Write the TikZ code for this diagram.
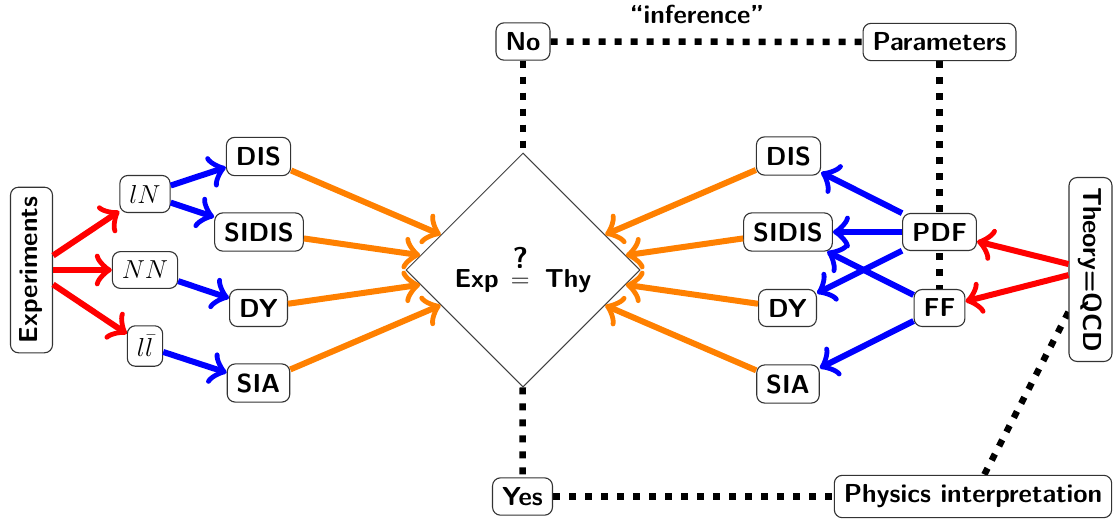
\RequirePackage{fix-cm}
\documentclass[tikz,border=0pt]{standalone}
\usepackage{amsmath}
\usepackage{fontspec}
\usetikzlibrary{shapes.geometric,backgrounds,arrows.meta}
\definecolor{myorange}{RGB}{255,128,0}
\newcommand{\queq}{\makebox[20pt]{$=$}\llap{\makebox[20pt]{\raisebox{19pt}{\fontsize{30}{30}\selectfont ?}}}}
\begin{document}
\begin{tikzpicture}[x=1pt,y=-1pt,
  every node/.style={font=\fontsize{26}{31}\selectfont\sffamily\bfseries},
  box/.style={draw=black!80, line width=1.1pt, rounded corners=8pt, fill=white, inner sep=9.5pt},
  tip/.style={-{Classical TikZ Rightarrow[scale=1.35]}, line width=6pt},
  redarr/.style={tip, red},
  bluearr/.style={tip, blue},
  orarr/.style={tip, myorange},
  dots/.style={line width=6.5pt, dash pattern=on 7pt off 9pt}
]
\path[use as bounding box] (0,0) rectangle (1118,520);
% left side
\node[box, rotate=90] (exp) at (31.5,270) {Experiments};
\node[box] (lN) at (145,194) {$lN$};
\node[box] (NN) at (145,270) {$NN$};
\node[box] (ll) at (145,346) {$l\bar{l}$};
\node[box] (disL) at (258.5,156.5) {DIS};
\node[box] (sidisL) at (259,232) {SIDIS};
\node[box] (dyL) at (258.5,308) {DY};
\node[box] (siaL) at (258.5,383) {SIA};
% centre
\node[draw=black!75, line width=1pt, shape=diamond, aspect=1, minimum width=234pt, minimum height=234pt, inner sep=0pt, fill=white, text height=40pt, text depth=6pt] (thy) at (523,270) {Exp\hspace{11.5pt}\queq\hspace{14.5pt}Thy};
% right side
\node[box] (disR) at (788.5,156) {DIS};
\node[box] (sidisR) at (788,232) {SIDIS};
\node[box] (dyR) at (787.5,308) {DY};
\node[box] (siaR) at (788,384) {SIA};
\node[box] (pdf) at (939.5,232) {PDF};
\node[box] (ff) at (939.5,308) {FF};
\node[box, rotate=-90] (qcd) at (1090.5,269.5) {Theory=QCD};
% top and bottom
\node[box] (no) at (523,41.5) {No};
\node[box] (par) at (939.5,42) {Parameters};
\node[box] (yes) at (522.5,496.5) {Yes};
\node[box] (phys) at (973,496.5) {Physics interpretation};
\node (inf) at (697,14) {“inference”};
% dotted lines
\begin{scope}[on background layer]
\draw[dots] (no) -- (par);
\draw[dots] (no) -- (thy);
\draw[dots] (par) -- (ff);
\draw[dots] (thy) -- (yes);
\draw[dots] (yes) -- (phys);
\draw[dots] (qcd) -- (phys);
\end{scope}
% arrows
\draw[redarr] (exp) -- (lN);
\draw[redarr] (exp) -- (NN);
\draw[redarr] (exp) -- (ll);
\draw[bluearr] (lN) -- (disL);
\draw[bluearr] (lN) -- (sidisL);
\draw[bluearr] (NN) -- (dyL);
\draw[bluearr] (ll) -- (siaL);
\draw[orarr] (disL) -- (thy);
\draw[orarr] (sidisL) -- (thy);
\draw[orarr] (dyL) -- (thy);
\draw[orarr] (siaL) -- (thy);
\draw[orarr] (disR) -- (thy);
\draw[orarr] (sidisR) -- (thy);
\draw[orarr] (dyR) -- (thy);
\draw[orarr] (siaR) -- (thy);
\draw[bluearr] (pdf) -- (disR);
\draw[bluearr] (pdf) -- (sidisR);
\draw[bluearr] (pdf) -- (dyR);
\draw[bluearr] (ff) -- (sidisR);
\draw[bluearr] (ff) -- (siaR);
\draw[redarr] (qcd) -- (pdf);
\draw[redarr] (qcd) -- (ff);
\end{tikzpicture}
\end{document}
